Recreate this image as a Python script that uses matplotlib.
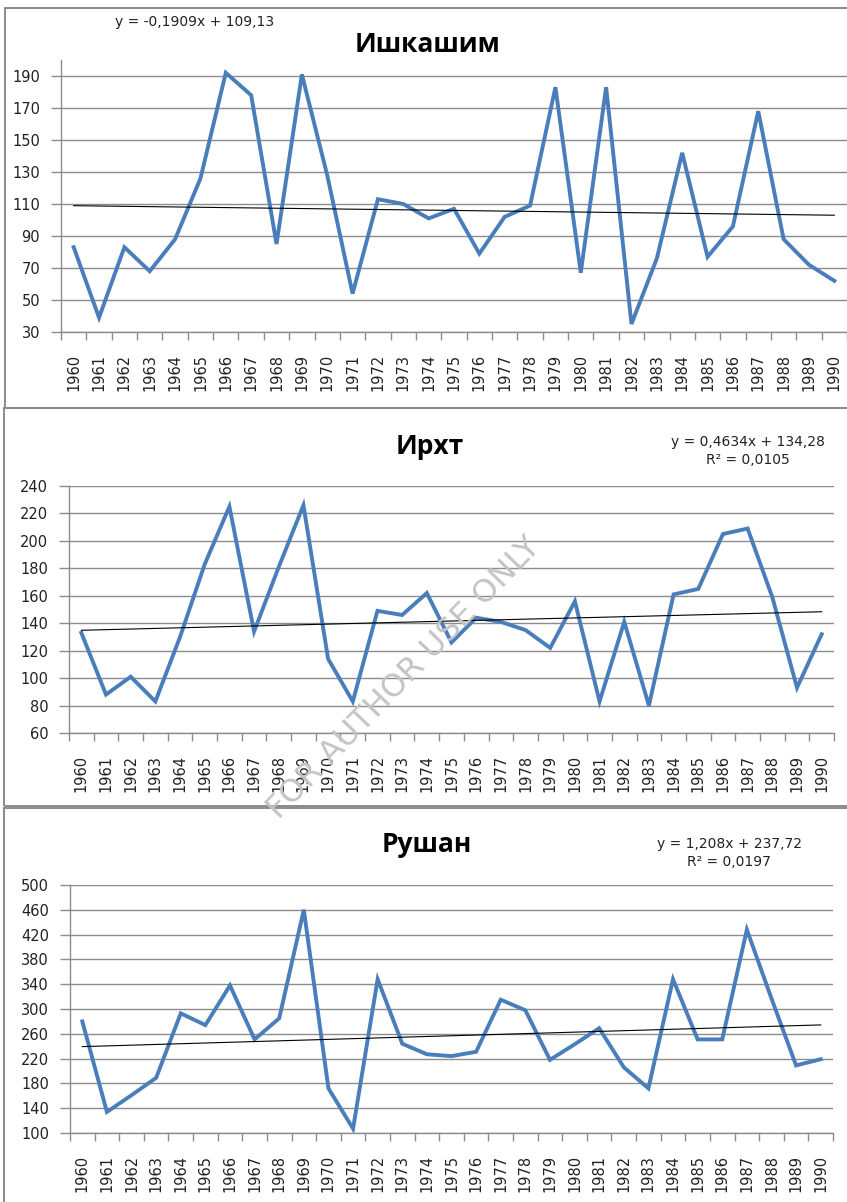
import numpy as np
import matplotlib.pyplot as plt
from matplotlib.patches import Rectangle

years = ['1960', '1961', '1962', '1963', '1964', '1965', '1966', '1967', '1968', '1969',
         '1970', '1971', '1972', '1973', '1974', '1975', '1976', '1977', '1978', '1979',
         '1980', '1981', '1982', '1983', '1984', '1985', '1986', '1987', '1988', '1989',
         '1990']

ishkashim = [83, 39, 83, 68, 88, 126, 192, 178, 85, 191,
             128, 54, 113, 110, 101, 107, 79, 102, 109, 183,
             67, 183, 35, 76, 142, 77, 96, 168, 88, 72,
             62]
irkht = [133, 88, 101, 83, 130, 183, 225, 134, 181, 226,
         114, 83, 149, 146, 162, 126, 144, 141, 135, 122,
         156, 83, 141, 80, 161, 165, 205, 209, 159, 93,
         132]
rushan = [280, 134, 161, 189, 293, 274, 338, 251, 285, 460,
          172, 107, 348, 244, 227, 224, 231, 315, 298, 218,
          243, 269, 206, 172, 348, 251, 251, 428, 317, 209,
          219]

titles = ['Ишкашим', 'Ирхт', 'Рушан']
equations = ['y = -0,1909x + 109,13',
             'y = 0,4634x + 134,28\nR² = 0,0105',
             'y = 1,208x + 237,72\nR² = 0,0197']
y_limits = [(30, 200), (60, 240), (100, 500)]
y_steps = [20, 20, 40]

W, H = 847, 1202
fig = plt.figure(figsize=(W / 100, H / 100), dpi=100)


def fx(px):
    return px / W


def fy(py):
    return 1 - py / H


# chart frames (right edge runs off the page like in the scan)
for top, bottom, left in [(8, 408, 5), (408, 806, 4), (808, 1300, 4)]:
    fig.patches.append(Rectangle((fx(left), fy(bottom)), fx(1000 - left), fy(top) - fy(bottom),
                                 transform=fig.transFigure, fill=False,
                                 edgecolor='#8a8a8a', linewidth=1.4, zorder=0))

# plot area boxes in pixels: left, right, top, bottom
boxes = [(61, 847, 60, 332), (69, 834, 486, 733), (70, 833, 885, 1133)]
title_pos = [(427, 45), (430, 447), (427, 845)]
eq_pos = [(195, 22, 'center'), (748, 451, 'center'), (729, 853, 'center')]

blue = '#4a7ebb'
grid_c = '#8c8c8c'

for i, series in enumerate([ishkashim, irkht, rushan]):
    l, r, t, b = boxes[i]
    ax = fig.add_axes([fx(l), fy(b), fx(r - l), fy(t) - fy(b)])
    x = np.arange(len(years))
    ax.plot(x, series, color=blue, linewidth=2.8, solid_joinstyle='miter', zorder=3)

    # linear trend as Excel does it, x = 1..n
    k, c = np.polyfit(x + 1, series, 1)
    ax.plot(x, k * (x + 1) + c, color='black', linewidth=0.8, zorder=4)

    lo, hi = y_limits[i]
    ax.set_ylim(lo, hi)
    ax.set_xlim(-0.5, len(years) - 0.5)
    ax.set_yticks(np.arange(lo, hi + 1, y_steps[i]))
    ax.yaxis.grid(True, color=grid_c, linewidth=1.0)
    ax.set_axisbelow(True)

    ax.set_xticks(x)
    ax.set_xticklabels(years, rotation=90, fontsize=10.5, color='#222222')
    ax.set_xticks(np.arange(-0.5, len(years)), minor=True)
    ax.tick_params(axis='x', which='major', length=0, pad=16)
    ax.tick_params(axis='x', which='minor', length=6, color=grid_c, width=1.0)
    ax.tick_params(axis='y', length=7, color=grid_c, width=1.0, pad=8, labelsize=10.5,
                   labelcolor='#222222')

    for side in ['top', 'right']:
        ax.spines[side].set_visible(False)
    for side in ['left', 'bottom']:
        ax.spines[side].set_color(grid_c)
        ax.spines[side].set_linewidth(1.0)

    tx, ty = title_pos[i]
    fig.text(fx(tx), fy(ty), titles[i], ha='center', va='center',
             fontsize=19, fontweight='bold', family='Open Sans')
    ex, ey, ha = eq_pos[i]
    fig.text(fx(ex), fy(ey), equations[i], ha=ha, va='center', fontsize=10,
             color='#222222', linespacing=1.35)

fig.text(fx(404), fy(678), 'FOR AUTHOR USE ONLY', rotation=46, ha='center', va='center',
         fontsize=23, color='#c4c4c4', zorder=10)

fig.savefig('out.png', dpi=100)
